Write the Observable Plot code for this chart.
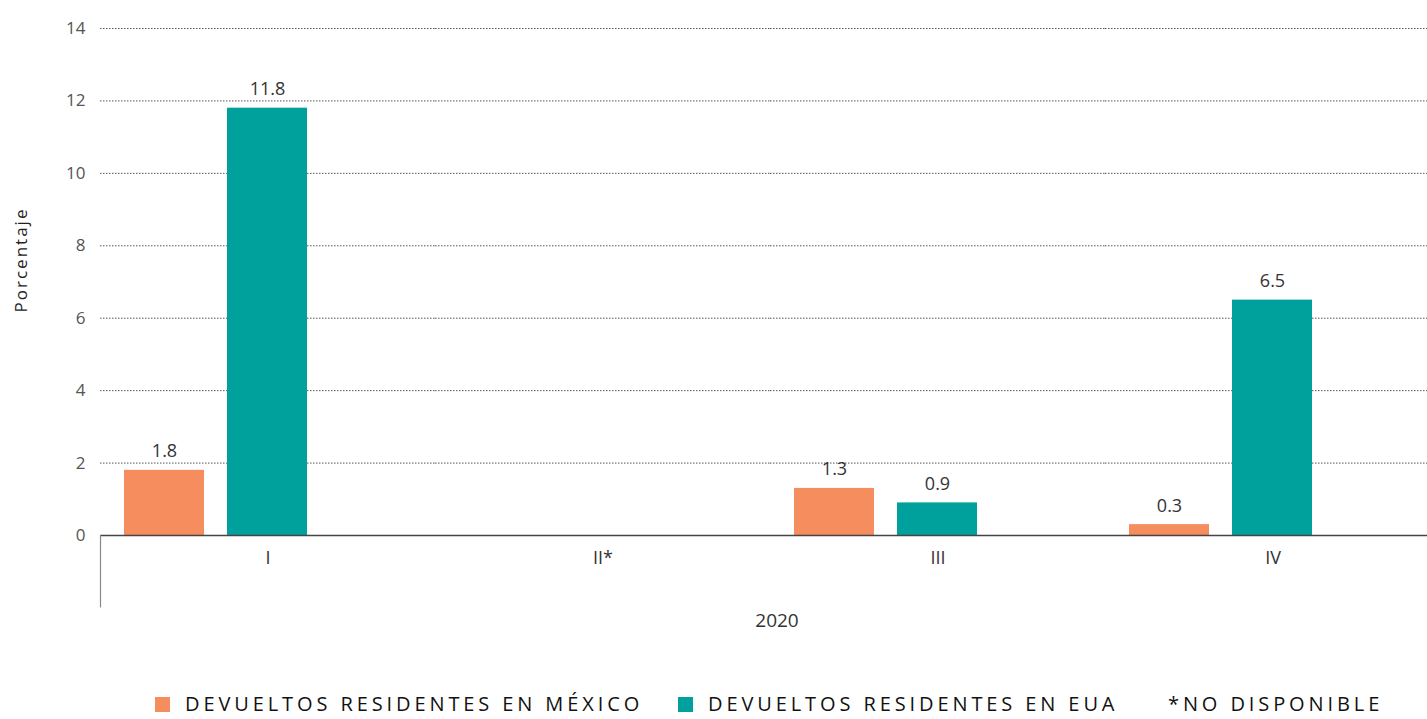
<!DOCTYPE html>
<html>
<head>
<meta charset="utf-8">
<script src="https://cdn.jsdelivr.net/npm/d3@7"></script>
<script src="https://cdn.jsdelivr.net/npm/@observablehq/plot@0.6"></script>
<style>
  html, body { margin: 0; padding: 0; overflow: hidden; background: #fff; }
  body { font-family: "Open Sans", sans-serif; width: 1427px; height: 719px; }
  #chart { height: 650px; }
  #chart svg { max-width: none !important; display: block; }
  #legend { position: relative; height: 18px; margin-top: 45px; font-size: 20px; letter-spacing: 3.9px; color: #111; }
  #legend .item { position: absolute; top: 0; height: 18px; display: flex; align-items: center; white-space: nowrap; line-height: 18px; }
  #legend .sw { width: 15px; height: 15px; margin-right: 15px; }
</style>
</head>
<body>
<div id="chart"></div>
<div id="legend"></div>
<script>
const quarters = ["I", "II*", "III", "IV"];
const mexico = [1.8, null, 1.3, 0.3];
const eua = [11.8, null, 0.9, 6.5];
const seriesNames = ["DEVUELTOS RESIDENTES EN MÉXICO", "DEVUELTOS RESIDENTES EN EUA", "*NO DISPONIBLE"];
const seriesColors = ["#F58D5F", "#00A19C", "#ffffff"];
const yTicks = [0, 2, 4, 6, 8, 10, 12, 14];
const yearLabel = "2020";
const yLabel = "Porcentaje";

// keep rows for every quarter (even not available) so each facet exists
const rows = [];
quarters.forEach((q, i) => {
  rows.push({q, s: seriesNames[0], v: mexico[i]});
  rows.push({q, s: seriesNames[1], v: eua[i]});
});

const fmt = d3.format(".1f");
const font = "'Open Sans', sans-serif";

const chart = Plot.plot({
  width: 1440,
  height: 650,
  marginLeft: 100,
  marginRight: 0,
  marginTop: 28,
  marginBottom: 115,
  style: {fontFamily: font, background: "#fff", overflow: "visible", maxWidth: "none"},
  fx: {domain: quarters, padding: 0, label: null},
  x: {domain: seriesNames, paddingInner: 0.223, paddingOuter: 0.2375, axis: null},
  y: {domain: [0, 14], ticks: yTicks},
  color: {domain: seriesNames, range: seriesColors},
  marks: [
    Plot.gridY(yTicks.filter(t => t > 0), {stroke: "#555", strokeOpacity: 1, strokeDasharray: "1.5,1.5", strokeWidth: 1}),
    Plot.axisY({ticks: yTicks, tickSize: 0, tickPadding: 15, fontSize: 17, color: "#555", label: yLabel, labelAnchor: "center", labelArrow: "none"}),
    Plot.axisFx({anchor: "bottom", tickSize: 0, tickPadding: 16, fontSize: 18, color: "#333", label: yearLabel, labelAnchor: "center", labelArrow: "none"}),
    Plot.barY(rows, {fx: "q", x: "s", y: "v", fill: "s"}),
    Plot.text(rows, {fx: "q", x: "s", y: "v", text: d => d.v == null ? null : fmt(d.v), dy: -13, lineAnchor: "bottom", fontSize: 18, fill: "#333"}),
    Plot.ruleY([0], {stroke: "#444", strokeWidth: 1.5})
  ]
});
document.getElementById("chart").appendChild(chart);

const svg = d3.select(chart);
// move a label group so its bbox center lands on (cx, cy)
function place(sel, cx, cy) {
  const g = svg.select(sel);
  if (g.empty()) return;
  const b = g.node().getBBox();
  g.attr("transform", `translate(${cx - (b.x + b.width / 2)},${cy - (b.y + b.height / 2)})`);
}
svg.selectAll("[aria-label='y-axis label'] text")
  .attr("font-size", 17).attr("fill", "#222").style("letter-spacing", "2px");
svg.selectAll("[aria-label='fx-axis label'] text").attr("font-size", 19).attr("fill", "#333");
place("[aria-label='y-axis label']", 20, 260);
place("[aria-label='fx-axis label']", 777, 620);

// Excel-like category group separator at left of the category axis
const yS = chart.scale("y");
svg.append("line")
  .attr("x1", 100.5).attr("x2", 100.5)
  .attr("y1", yS.apply(0)).attr("y2", yS.apply(-2))
  .attr("stroke", "#888").attr("stroke-width", 1.2);

// legend
const legendPos = [155, 678, 1168];
const legend = document.getElementById("legend");
seriesNames.forEach((name, i) => {
  const item = document.createElement("div");
  item.className = "item";
  item.style.left = legendPos[i] + "px";
  if (i < 2) {
    const sw = document.createElement("span");
    sw.className = "sw";
    sw.style.background = seriesColors[i];
    item.appendChild(sw);
  }
  const t = document.createElement("span");
  t.textContent = name;
  item.appendChild(t);
  legend.appendChild(item);
});
</script>
</body>
</html>
